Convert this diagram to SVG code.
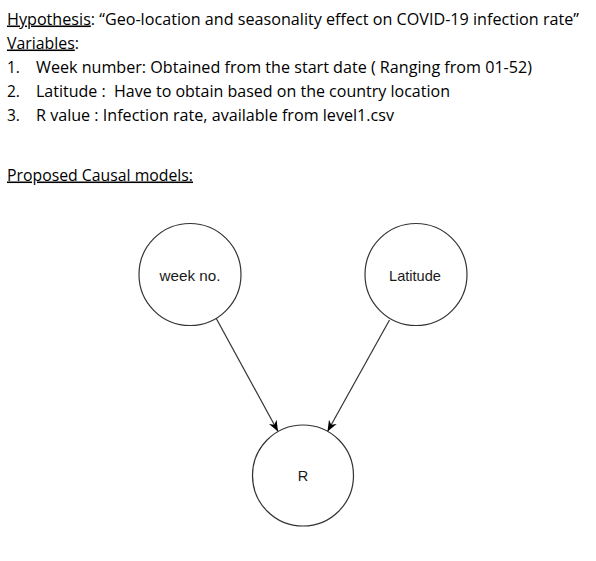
<svg xmlns="http://www.w3.org/2000/svg" width="596" height="561" viewBox="0 0 596 561">
  <style>
    .doc { font-family: "Open Sans", "Liberation Sans", sans-serif; font-size: 15.5px; fill: #000; white-space: pre; }
    .ul { text-decoration: underline; }
    .node circle { fill: #fff; stroke: #333; stroke-width: 1.2; }
    .node text { font-family: "Liberation Sans", Arial, sans-serif; font-size: 14.5px; fill: #1a1a1a; text-anchor: middle; }
    .edge { stroke: #333; stroke-width: 1.2; fill: none; marker-end: url(#arrow); }
  </style>
  <defs>
    <marker id="arrow" viewBox="0 0 10 8" refX="10" refY="4" markerWidth="11" markerHeight="9" markerUnits="userSpaceOnUse" orient="auto">
      <path d="M0,0 L10,4 L0,8 L3,4 z" fill="#000"/>
    </marker>
  </defs>
  <rect width="596" height="561" fill="#fff"/>

  <g id="header">
    <text class="doc" x="7" y="24.5" textLength="572" lengthAdjust="spacingAndGlyphs"><tspan class="ul">Hypothesis</tspan>: “Geo-location and seasonality effect on COVID-19 infection rate”</text>
    <text class="doc" x="7" y="48.5" textLength="72" lengthAdjust="spacingAndGlyphs"><tspan class="ul">Variables</tspan>:</text>
    <text class="doc" x="7" y="72.5">1.</text>
    <text class="doc" x="36" y="72.5" textLength="496" lengthAdjust="spacingAndGlyphs">Week number: Obtained from the start date ( Ranging from 01-52)</text>
    <text class="doc" x="7" y="96.5">2.</text>
    <text class="doc" x="36" y="96.5" textLength="414" lengthAdjust="spacingAndGlyphs">Latitude :  Have to obtain based on the country location</text>
    <text class="doc" x="7" y="120.5">3.</text>
    <text class="doc" x="36" y="120.5" textLength="358" lengthAdjust="spacingAndGlyphs">R value : Infection rate, available from level1.csv</text>
    <text class="doc ul" x="7" y="180.5" textLength="186" lengthAdjust="spacingAndGlyphs">Proposed Causal models:</text>
  </g>

  <g id="connectors">
    <line class="edge" x1="216" y1="318" x2="278" y2="431.5"/>
    <line class="edge" x1="389.5" y1="320" x2="327.5" y2="431.5"/>
  </g>

  <g id="node-week" class="node">
    <circle cx="190" cy="274.5" r="51"/>
    <text x="190" y="280.5" textLength="61" lengthAdjust="spacingAndGlyphs">week no.</text>
  </g>
  <g id="node-latitude" class="node">
    <circle cx="416" cy="274.5" r="51"/>
    <text x="415" y="280.5" textLength="52" lengthAdjust="spacingAndGlyphs">Latitude</text>
  </g>
  <g id="node-r" class="node">
    <circle cx="303" cy="475.5" r="50.5"/>
    <text x="303" y="481" font-size="15">R</text>
  </g>
</svg>
